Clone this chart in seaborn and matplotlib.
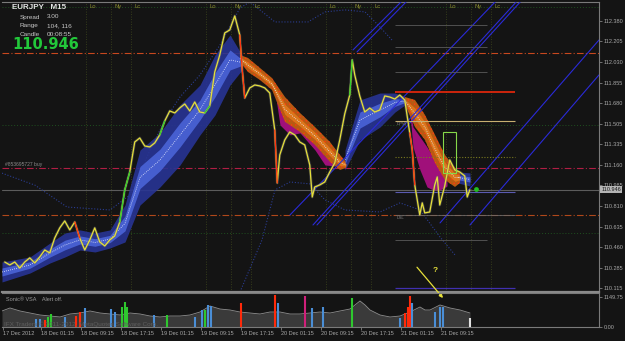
import matplotlib
matplotlib.use("Agg")
import matplotlib.pyplot as plt
import matplotlib.transforms as mtrans
import numpy as np
import seaborn as sns

# ---------------- data (hours since 18 Dec 00:00, prices) ----------------
price_t = [
    -6, -5, -4, -3, -2, -1, 0, 1, 2, 3,
    4, 5, 6, 7, 8, 9, 10, 11, 12, 13,
    14, 15, 16, 17, 18, 19, 20, 21, 22, 23,
    24, 25, 26, 27, 28, 29, 30, 31, 32, 33,
    34, 35, 36, 37, 38, 39, 40, 41, 41.5, 42,
    43, 44, 45, 46, 47, 48, 48.5, 49, 50, 51,
    52, 53, 54, 55, 55.5, 56, 57, 58, 59, 60,
    61, 62, 63, 63.5, 64, 65, 66, 67, 68, 69,
    70, 71, 72, 73, 74, 75, 75.5, 76, 77, 77.5,
    78, 79, 80, 80.5, 81, 82, 83, 84, 85, 86,
    86.5, 87]
price_c = [
    110.335, 110.310, 110.335, 110.284, 110.335, 110.370, 110.327, 110.378, 110.437, 110.412,
    110.539, 110.624, 110.683, 110.607, 110.674, 110.539, 110.437, 110.522, 110.624, 110.505,
    110.471, 110.522, 110.556, 110.674, 110.946, 111.098, 111.352, 111.386, 111.318, 111.310,
    111.344, 111.412, 111.530, 111.615, 111.598, 111.640, 111.674, 111.615, 111.691, 111.606,
    111.598, 111.657, 111.945, 112.089, 112.276, 112.301, 112.420, 112.259, 111.962, 111.725,
    111.810, 111.835, 111.827, 111.810, 111.767, 111.454, 111.005, 111.242, 111.369, 111.437,
    111.412, 111.352, 111.327, 111.157, 110.886, 110.971, 110.988, 111.013, 111.098, 111.174,
    111.369, 111.590, 111.750, 112.047, 111.920, 111.742, 111.606, 111.640, 111.606, 111.623,
    111.742, 111.733, 111.716, 111.750, 111.708, 111.429, 111.284, 110.988, 110.734, 110.836,
    110.751, 110.759, 110.988, 111.056, 110.818, 110.980, 111.200, 111.115, 111.098, 111.064,
    110.886, 110.946]
green_runs = [(17, 19), (25, 26), (34, 35), (63, 63.5)]
red_runs = [(8, 9), (41, 42), (48, 48.5), (75, 76)]

blue1_t = [-6.55, -0.95, 3.05, 6.05, 9.05, 12.05, 15.05, 18.05, 21.05, 25.05, 29.05, 33.05, 36.05, 39.05, 41.45]
blue1_hi = [110.335, 110.378, 110.496, 110.581, 110.607, 110.581, 110.607, 110.818, 111.284, 111.429, 111.666, 111.835, 112.089, 112.259, 112.089]
blue1_lo = [110.166, 110.242, 110.327, 110.378, 110.437, 110.420, 110.454, 110.505, 110.818, 110.971, 111.157, 111.412, 111.581, 111.835, 111.962]

orange1_t = [41.05, 42.65, 45.05, 47.45, 50.05, 53.05, 56.05, 59.05, 61.05, 62.25]
orange1_hi = [112.089, 112.064, 111.979, 111.894, 111.733, 111.598, 111.479, 111.352, 111.242, 111.183]
orange1_lo = [112.030, 111.945, 111.877, 111.793, 111.522, 111.437, 111.327, 111.183, 111.115, 111.132]

blue2_t = [62.05, 65.05, 69.05, 72.05, 74.05]
blue2_hi = [111.284, 111.708, 111.767, 111.767, 111.733]
blue2_lo = [111.115, 111.369, 111.479, 111.606, 111.666]

orange2_t = [74.05, 76.05, 78.05, 80.05, 82.05, 84.05, 85.05]
orange2_hi = [111.733, 111.708, 111.581, 111.412, 111.242, 111.132, 111.098]
orange2_lo = [111.666, 111.479, 111.369, 111.174, 111.030, 110.971, 111.005]

blue3_t = [84.65, 87.05]
blue3_hi = [111.098, 111.090]
blue3_lo = [111.005, 110.979]

magenta1_t = [48.05, 49.05, 51.05, 53.05, 56.05, 58.05, 60.05]
magenta1_hi = [111.810, 111.666, 111.581, 111.454, 111.344, 111.234, 111.183]
magenta1_lo = [111.776, 111.496, 111.412, 111.429, 111.284, 111.157, 111.149]

magenta2_t = [75.05, 75.65, 77.05, 78.45, 79.65, 81.05, 82.45]
magenta2_hi = [111.623, 111.479, 111.395, 111.310, 111.225, 111.115, 111.013]
magenta2_lo = [111.581, 111.310, 111.115, 110.971, 110.946, 110.946, 110.979]

env_up_t = [-6.55, 0.05, 6.45, 15.05, 19.05, 23.05, 26.05, 29.05, 33.05, 37.05, 41.05, 43.05, 48.05, 54.65, 58.05, 62.05, 66.05, 68.65, 71.45]
env_up_p = [111.088, 110.986, 110.801, 110.776, 110.903, 111.284, 111.539, 111.733, 111.920, 112.174, 112.488, 112.538, 112.369, 112.369, 112.454, 112.471, 112.454, 112.344, 112.216]
env_lo_t = [41.05, 45.45, 48.05, 51.05, 55.05, 58.05, 62.05, 69.05, 73.05, 77.05, 81.05, 84.05]
env_lo_p = [110.081, 110.522, 110.946, 111.013, 110.997, 110.861, 110.776, 110.759, 110.836, 110.776, 110.547, 110.395]

chan_t0 = [55.65, 56.45, 51.05, 81.05, 87.05, 63.65, 64.45]
chan_p0 = [110.649, 110.649, 110.734, 110.666, 110.649, 112.132, 112.115]
chan_t1 = [96.65, 97.45, 92.45, 112.85, 112.85, 73.65, 74.65]
chan_p1 = [112.555, 112.555, 112.555, 112.216, 111.920, 112.555, 112.555]

full_red_levels = [112.106, 111.132, 110.734]
green_dot_levels = [112.496, 111.496, 110.581]
bid_price = 110.946
right_levels = [111.775, 111.530, 111.225, 110.929, 110.734, 110.115]
gray_levels = [112.344, 112.157, 111.945, 110.522]
levels_start, levels_end, gray_end = 72.05, 96.05, 90.45

session_hours = [10.25, 15.25, 19.25]
session_names = ["Lo", "Ny", "Lc"]
day_offsets = [0, 24, 48, 72]

box_t = (81.65, 84.25)
box_p = (111.090, 111.436)
dot_t, dot_p = 88.25, 110.95
arrow_from = (76.45, 110.291)
arrow_to = (81.65, 110.03)

vol_t = [-6.55, -4.95, -2.95, -0.95, 1.05, 3.05, 5.05, 7.05, 9.05, 11.05, 13.05, 15.05, 17.05, 19.05,
         21.05, 23.05, 25.05, 27.05, 29.05, 31.05, 33.05, 35.05, 37.05, 39.05, 41.05, 43.05, 45.05,
         47.05, 49.05, 51.05, 53.05, 55.05, 57.05, 59.05, 61.05, 63.05, 64.05, 65.05, 66.05, 67.05,
         69.05, 71.05, 73.05, 75.05, 77.05, 78.05, 79.05, 81.05, 83.05, 85.05, 87.05]
vol_v = [613, 728, 613, 536, 460, 421, 383, 498, 536, 613, 536, 498, 460, 536,
         498, 421, 383, 421, 421, 460, 574, 804, 689, 651, 574, 536, 498,
         574, 574, 498, 498, 536, 574, 536, 613, 689, 843, 996, 843, 651,
         460, 383, 421, 574, 766, 651, 651, 843, 728, 651, 536]

spike_t = [0.25, 1.05, 2.05, 2.65, 3.25, 6.05, 8.25, 9.05, 10.05, 15.25, 16.05, 17.45, 18.05, 18.45,
           23.85, 26.45, 32.05, 33.45, 34.05, 34.65, 35.25, 41.25, 48.05, 48.65, 54.05, 55.45, 57.65,
           63.45, 73.05, 74.05, 74.65, 75.05, 75.45, 80.05, 81.05, 81.65, 87.05]
spike_v = [306, 306, 268, 383, 498, 383, 421, 574, 728, 689, 574, 766, 958, 766,
           460, 460, 383, 651, 651, 843, 804, 919, 1226, 919, 1187, 728, 766,
           1111, 345, 536, 766, 1187, 919, 574, 766, 766, 345]
spike_kind = ['neutral', 'neutral', 'down', 'up', 'up', 'neutral', 'down', 'down', 'neutral', 'neutral',
              'neutral', 'up', 'up', 'up', 'neutral', 'up', 'neutral', 'neutral', 'up', 'neutral',
              'neutral', 'down', 'down', 'neutral', 'climax', 'neutral', 'neutral', 'up', 'neutral', 'down',
              'down', 'down', 'neutral', 'neutral', 'neutral', 'neutral', 'current']

x_tick_pos = [-6.3, 1.25, 9.25, 17.25, 25.25, 33.25, 41.25, 49.25, 57.25, 65.25, 73.25, 81.25]
x_tick_lab = ['17 Dec 2012', '18 Dec 01:15', '18 Dec 09:15', '18 Dec 17:15', '19 Dec 01:15',
              '19 Dec 09:15', '19 Dec 17:15', '20 Dec 01:15', '20 Dec 09:15', '20 Dec 17:15',
              '21 Dec 01:15', '21 Dec 09:15']
y_ticks = [112.380, 112.205, 112.030, 111.855, 111.680, 111.505, 111.335, 111.160,
           110.985, 110.810, 110.635, 110.460, 110.285, 110.115]
vol_ticks = [1149.75, 0]
vol_tick_lab = ['1149.75', '0.00']

# ---------------- style ----------------
sns.set_theme(style="dark")
plt.rcParams["font.family"] = ["Liberation Sans", "DejaVu Sans"]
plt.rcParams["hatch.linewidth"] = 0.5

BG = "#141414"
W, H = 625, 341
fig = plt.figure(figsize=(6.25, 3.41), dpi=100, facecolor=BG)
ax = fig.add_axes([2 / W, 1 - 292 / H, 597 / W, 290 / H])
axv = fig.add_axes([2 / W, 1 - 327 / H, 597 / W, 34 / H], sharex=ax)
ax.set_facecolor(BG)
axv.set_facecolor("none")

XL = (-6.55, 112.85)
ax.set_xlim(*XL)
ax.set_ylim(110.081, 112.538)
axv.set_ylim(0, 1302)

# background reference lines
for d in day_offsets:
    for s in session_hours:
        ax.axvline(d + s, color="#404a1c", ls=(0, (1, 2)), lw=0.6, zorder=1)
for p in green_dot_levels:
    ax.axhline(p, color="#1f4f1f", ls=(0, (1, 2)), lw=0.7, zorder=1)
ax.axhline(full_red_levels[0], color="#c8481e", ls=(0, (6, 2, 1, 2)), lw=0.8, zorder=1.5)
ax.axhline(full_red_levels[1], color="#b01e44", ls=(0, (6, 2, 1, 2)), lw=0.8, zorder=1.5)
ax.axhline(full_red_levels[2], color="#b0481a", ls=(0, (6, 2, 1, 2)), lw=0.8, zorder=1.5)
ax.axhline(bid_price, color="#5c5c5c", lw=0.8, zorder=1.5)

# dotted envelopes
ax.plot(env_up_t, env_up_p, color="#2a3c90", ls=(0, (1, 1.6)), lw=0.8, zorder=2)
ax.plot(env_lo_t, env_lo_p, color="#2a3c90", ls=(0, (1, 1.6)), lw=0.8, zorder=2)


def draw_band(t, lo, hi, outer, inner, hatch_col=None):
    t = np.asarray(t); lo = np.asarray(lo); hi = np.asarray(hi)
    w = hi - lo
    if hatch_col:
        ax.fill_between(t, lo, hi, facecolor=outer, edgecolor=hatch_col, hatch="....", lw=0, zorder=3)
    else:
        ax.fill_between(t, lo, hi, color=outer, lw=0, zorder=3, alpha=0.9)
    ax.fill_between(t, lo + 0.3 * w, hi - 0.3 * w, color=inner, lw=0, zorder=3.1, alpha=0.9)
    ax.plot(t, (lo + hi) / 2, color="#e8ecff", ls=(0, (1, 1.5)), lw=0.6, zorder=3.2)


ax.fill_between(magenta1_t, magenta1_lo, magenta1_hi, color="#a0107a", lw=0, zorder=2.8)
ax.fill_between(magenta2_t, magenta2_lo, magenta2_hi, color="#a0107a", lw=0, zorder=2.8)
draw_band(blue1_t, blue1_lo, blue1_hi, "#283494", "#4a64d8")
draw_band(blue2_t, blue2_lo, blue2_hi, "#283494", "#4a64d8")
draw_band(blue3_t, blue3_lo, blue3_hi, "#283494", "#4a64d8")
draw_band(orange1_t, orange1_lo, orange1_hi, "#b85a12", "#e07a1c", hatch_col="#ff3a10")
draw_band(orange2_t, orange2_lo, orange2_hi, "#b85a12", "#e07a1c", hatch_col="#ff3a10")

# channel lines
for t0, p0, t1, p1 in zip(chan_t0, chan_p0, chan_t1, chan_p1):
    ax.plot([t0, t1], [p0, p1], color="#2a2ad8", lw=0.8, zorder=4)

# right-side levels
ax.hlines(right_levels[0], levels_start, levels_end, color="#ff2a0a", lw=1.1, zorder=4)
ax.hlines(right_levels[1], levels_start, levels_end, color="#c8b070", lw=0.8, zorder=4)
ax.hlines(right_levels[2], levels_start, levels_end, color="#7a7a20", lw=0.8, ls=(0, (1, 1.5)), zorder=4)
ax.hlines(right_levels[3], levels_start, levels_end, color="#5a5ab0", lw=0.8, zorder=4)
ax.hlines(right_levels[4], levels_start, levels_end, color="#6a6a6a", lw=0.6, zorder=4)
ax.hlines(right_levels[5], levels_start, levels_end, color="#4030b0", lw=0.9, zorder=4)
for p in gray_levels:
    ax.hlines(p, levels_start, gray_end, color="#5a5a5a", lw=0.6, zorder=4)
ax.text(levels_start + 0.4, right_levels[1] - 0.01, "DPW", fontsize=3.2, color="#808080", va="top", zorder=4)
ax.text(levels_start + 0.4, right_levels[4] - 0.01, "LSL", fontsize=3.2, color="#808080", va="top", zorder=4)

# price line
sns.lineplot(x=price_t, y=price_c, ax=ax, color="#6c6c6c", lw=2.0, alpha=0.45,
             estimator=None, sort=False, zorder=4.8)
sns.lineplot(x=price_t, y=price_c, ax=ax, color="#e6e03a", lw=0.9,
             estimator=None, sort=False, zorder=5)
pt = np.asarray(price_t); pc = np.asarray(price_c)
for a, b in green_runs:
    m = (pt >= a) & (pt <= b)
    ax.plot(pt[m], pc[m], color="#2ed02e", lw=0.9, zorder=5.5)
for a, b in red_runs:
    m = (pt >= a) & (pt <= b)
    ax.plot(pt[m], pc[m], color="#ff3010", lw=0.9, zorder=5.5)

# annotations on price panel
ax.add_patch(plt.Rectangle((box_t[0], box_p[0]), box_t[1] - box_t[0], box_p[1] - box_p[0],
                           fill=False, ec="#86d84a", lw=0.8, zorder=6))
ax.scatter([dot_t], [dot_p], s=12, color="#22c022", zorder=6, linewidths=0)
ax.annotate("", xy=arrow_to, xytext=arrow_from, annotation_clip=False, zorder=7,
            arrowprops=dict(arrowstyle="-|>", color="#e6e03a", lw=0.9, mutation_scale=5,
                            shrinkA=0, shrinkB=0))
ax.text(79.6, 110.25, "?", fontsize=6, color="#e6e03a", fontweight="bold", zorder=7)
ax.text(-5.9, full_red_levels[1] + 0.012, "#853695727 buy", fontsize=3.6, color="#8a8a8a", va="bottom")

blend = mtrans.blended_transform_factory(ax.transData, ax.transAxes)
for d in day_offsets:
    for s, n in zip(session_hours, session_names):
        ax.text(d + s + 0.7, 0.985, n, transform=blend, fontsize=4.2, color="#8c8c30",
                va="center", ha="left")

# axes cosmetics: price panel
ax.set_xlabel(""); ax.set_ylabel("")
ax.grid(False)
ax.yaxis.tick_right()
ax.set_yticks(y_ticks)
ax.set_yticklabels([f"{v:.3f}" for v in y_ticks])
ax.tick_params(axis="y", right=True, left=False, length=2, width=0.6, pad=1.5,
               labelsize=4, labelcolor="#a8a8a8", color="#808080")
ax.tick_params(axis="x", bottom=False, labelbottom=False)
for side in ["left"]:
    ax.spines[side].set_visible(False)
for side in ["top", "right"]:
    ax.spines[side].set_color("#7a7a7a"); ax.spines[side].set_linewidth(0.8)
ax.spines["bottom"].set_color("#8a8a8a"); ax.spines["bottom"].set_linewidth(1.6)

yblend = mtrans.blended_transform_factory(ax.transAxes, ax.transData)
ax.text(1.004, bid_price, f"{bid_price:.3f}", transform=yblend, fontsize=4, color="#1a1a1a",
        va="center", ha="left", clip_on=False, zorder=8,
        bbox=dict(boxstyle="square,pad=0.18", fc="#b4b4b4", ec="none"))

# volume panel
axv.fill_between(vol_t, 0, vol_v, color="#3a3a3a", lw=0, zorder=1)
sns.lineplot(x=vol_t, y=vol_v, ax=axv, color="#8e8e8e", lw=0.6, estimator=None, sort=False, zorder=2)
kind_col = {"neutral": "#4a8ed6", "up": "#2ec82e", "down": "#ff2a0a", "climax": "#d0207a", "current": "#e0e0e0"}
axv.vlines(spike_t, 0, spike_v, colors=[kind_col[k] for k in spike_kind], lw=1.5, zorder=3)
axv.set_xlabel(""); axv.set_ylabel("")
axv.grid(False)
axv.set_xlim(*XL)
axv.set_xticks(x_tick_pos)
axv.set_xticklabels(x_tick_lab, ha="left")
axv.tick_params(axis="x", bottom=True, length=2, width=0.6, pad=1, labelsize=4,
                labelcolor="#a8a8a8", color="#808080")
axv.yaxis.tick_right()
axv.set_yticks(vol_ticks)
axv.set_yticklabels(vol_tick_lab)
axv.tick_params(axis="y", right=True, left=False, length=2, width=0.6, pad=1.5, labelsize=4,
                labelcolor="#a8a8a8", color="#808080")
axv.spines["left"].set_visible(False)
for side in ["top", "right", "bottom"]:
    axv.spines[side].set_color("#7a7a7a"); axv.spines[side].set_linewidth(0.8)
axv.text(0.007, 0.82, "Sonic\u00ae VSA    Alert off.", transform=axv.transAxes, fontsize=4,
         color="#9a9a9a", va="center")
axv.text(0.004, 0.08, "IFX Traders \u00a9 2011-2012, MetaQuotes Software Corp.", transform=axv.transAxes,
         fontsize=4.6, color="#5e5e5e", va="center", zorder=4)

# top-left info block
def ftxt(x, y, s, **kw):
    fig.text(x / W, 1 - y / H, s, va="center", ha="left", **kw)

ftxt(12, 7.5, "EURJPY   M15", fontsize=5.8, fontweight="bold", color="#e4e4e4")
ftxt(20, 17, "Spread", fontsize=4.6, color="#c8c8c8")
ftxt(47, 17, "3.00", fontsize=4.6, color="#c8c8c8")
ftxt(20, 25.5, "Range", fontsize=4.6, color="#c8c8c8")
ftxt(47, 25.5, "104, 116", fontsize=4.6, color="#c8c8c8")
ftxt(20, 34, "Candle", fontsize=4.6, color="#c8c8c8")
ftxt(47, 34, "00:08:55", fontsize=4.6, color="#c8c8c8")
fig.text(12 / W, 1 - 44.5 / H, "110.946", va="center", ha="left", fontsize=10.5,
         fontweight="bold", color="#22c83a", family="DejaVu Sans")

fig.savefig("out.png", dpi=100, facecolor=BG)
